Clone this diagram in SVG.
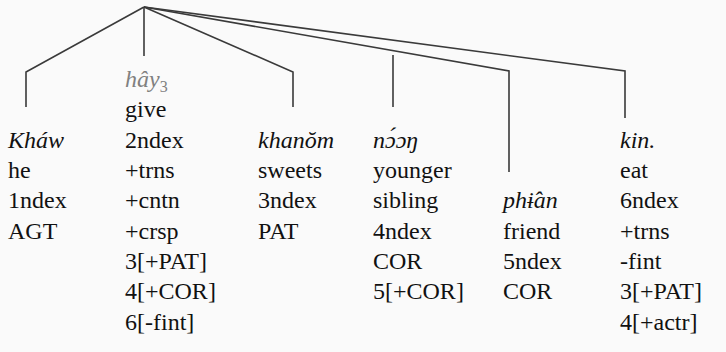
<svg xmlns="http://www.w3.org/2000/svg" width="726" height="352" viewBox="0 0 726 352">
<style>
text{font-family:'Liberation Serif','Times New Roman',serif;font-size:24px;fill:#111}
.i{font-style:italic}
.g{fill:#808080}
.c{fill:none;stroke:#3a3a3a;stroke-width:1.6}
</style>
<rect width="726" height="352" fill="#fafafa"/>
<g id="connectors">
<path class="c" d="M144,7 L26,72 L26,107"/>
<path class="c" d="M144,7 L144,56"/>
<path class="c" d="M144,7 L293,72 L293,107"/>
<path class="c" d="M393,55 L393,107"/>
<path class="c" d="M144,7 L509,71 L509,172"/>
<path class="c" d="M144,7 L625,71 L625,118"/>
</g>
<g id="node-khaw">
<text x="8" y="148" class="i">Kháw</text>
<text x="8" y="178">he</text>
<text x="8" y="208">1ndex</text>
<text x="8" y="239">AGT</text>
</g>
<g id="node-hay">
<text x="125" y="87" class="i g">hây<tspan font-size="16" dy="5" font-style="normal">3</tspan></text>
<text x="125" y="117">give</text>
<text x="125" y="148">2ndex</text>
<text x="125" y="178">+trns</text>
<text x="125" y="208">+cntn</text>
<text x="125" y="239">+crsp</text>
<text x="125" y="269">3[+PAT]</text>
<text x="125" y="299">4[+COR]</text>
<text x="125" y="330">6[-fint]</text>
</g>
<g id="node-khanom">
<text x="258" y="148" class="i">khanŏm</text>
<text x="258" y="178">sweets</text>
<text x="258" y="208">3ndex</text>
<text x="258" y="239">PAT</text>
</g>
<g id="node-noong">
<text x="373" y="148" class="i">nɔ́ɔŋ</text>
<text x="373" y="178">younger</text>
<text x="373" y="208">sibling</text>
<text x="373" y="239">4ndex</text>
<text x="373" y="269">COR</text>
<text x="373" y="299">5[+COR]</text>
</g>
<g id="node-phian">
<text x="503" y="208" class="i">phɨ̂an</text>
<text x="503" y="239">friend</text>
<text x="503" y="269">5ndex</text>
<text x="503" y="299">COR</text>
</g>
<g id="node-kin">
<text x="620" y="148" class="i">kin.</text>
<text x="620" y="178">eat</text>
<text x="620" y="208">6ndex</text>
<text x="620" y="239">+trns</text>
<text x="620" y="269">-fint</text>
<text x="620" y="299">3[+PAT]</text>
<text x="620" y="330">4[+actr]</text>
</g>
</svg>
